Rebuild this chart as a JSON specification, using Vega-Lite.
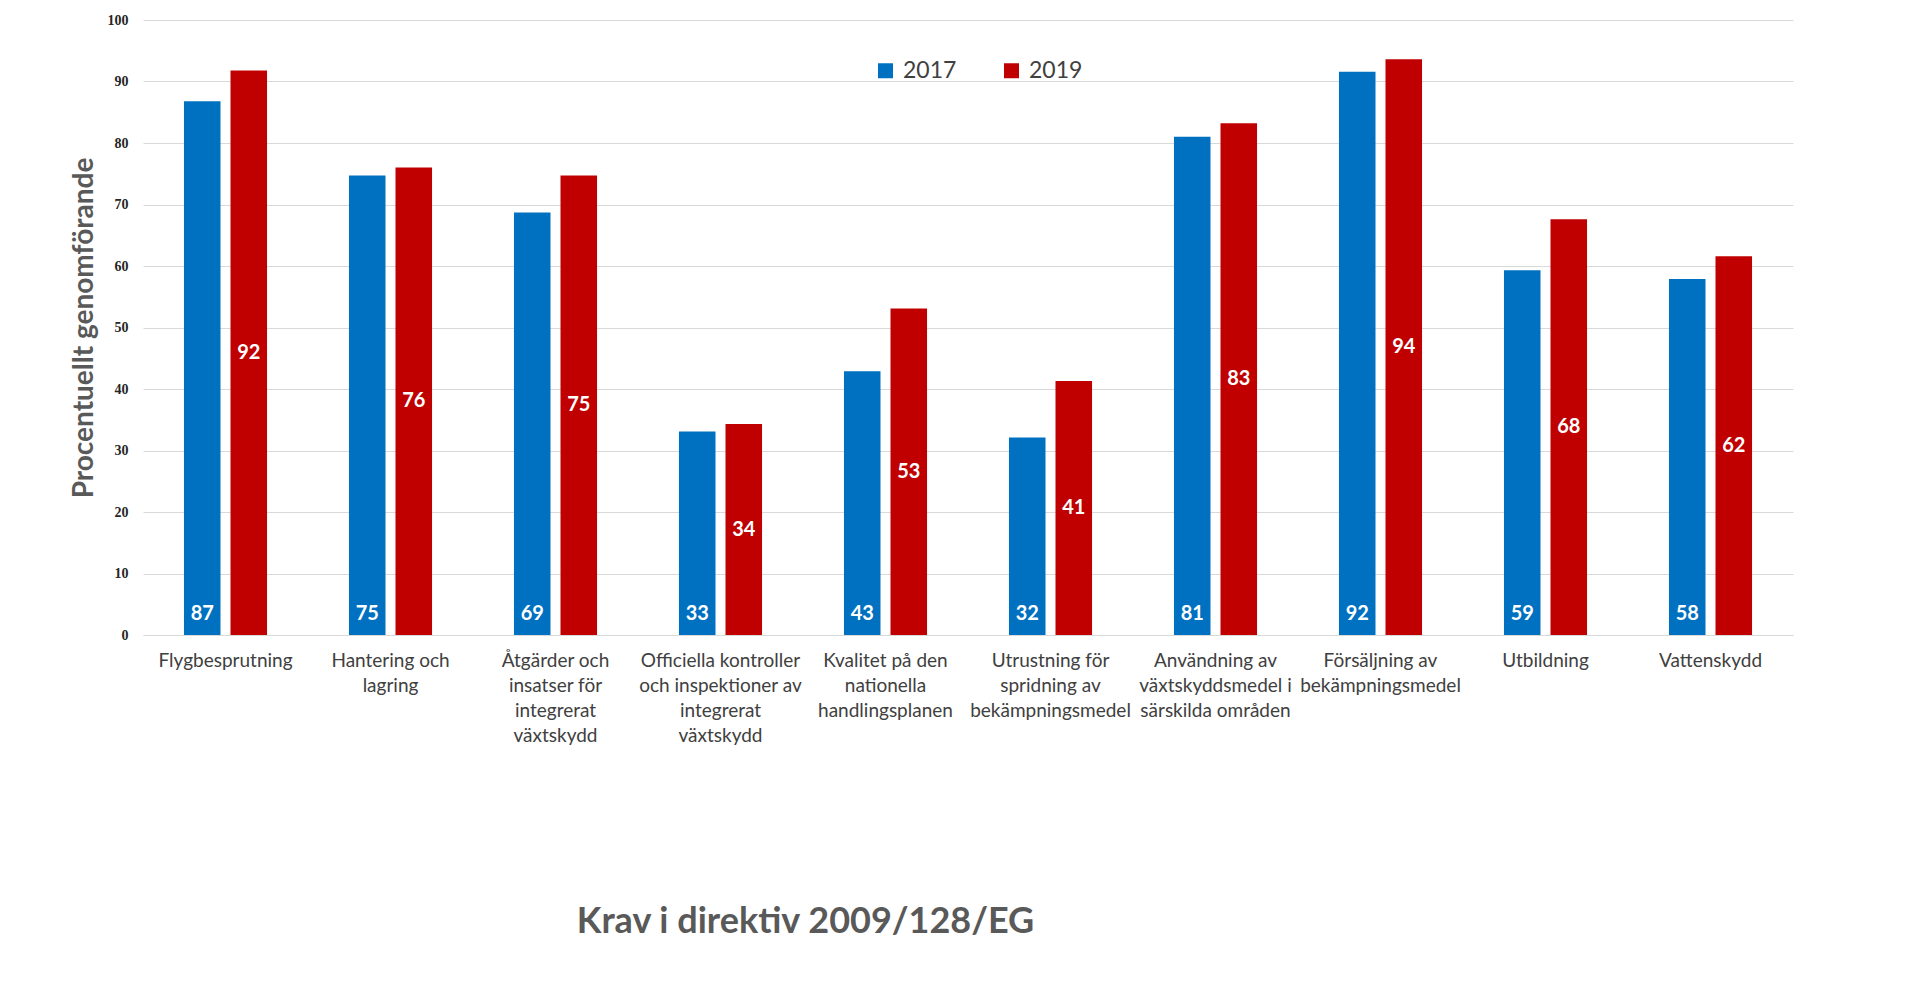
{
  "$schema": "https://vega.github.io/schema/vega-lite/v6.json",
  "width": 1650,
  "height": 615,
  "autosize": {"type": "none"},
  "padding": {"left": 143, "top": 20, "right": 139, "bottom": 352},
  "background": "white",
  "config": {
    "view": {"stroke": null},
    "font": "Lato"
  },
  "data": {
    "values": [
      {"krav": "Flygbesprutning", "year": "2017", "value": 86.8},
      {"krav": "Flygbesprutning", "year": "2019", "value": 91.8},
      {"krav": "Hantering och\nlagring", "year": "2017", "value": 74.7},
      {"krav": "Hantering och\nlagring", "year": "2019", "value": 76.0},
      {"krav": "Åtgärder och\ninsatser för\nintegrerat\nväxtskydd", "year": "2017", "value": 68.7},
      {"krav": "Åtgärder och\ninsatser för\nintegrerat\nväxtskydd", "year": "2019", "value": 74.7},
      {"krav": "Officiella kontroller\noch inspektioner av\nintegrerat\nväxtskydd", "year": "2017", "value": 33.1},
      {"krav": "Officiella kontroller\noch inspektioner av\nintegrerat\nväxtskydd", "year": "2019", "value": 34.3},
      {"krav": "Kvalitet på den\nnationella\nhandlingsplanen", "year": "2017", "value": 42.9},
      {"krav": "Kvalitet på den\nnationella\nhandlingsplanen", "year": "2019", "value": 53.1},
      {"krav": "Utrustning för\nspridning av\nbekämpningsmedel", "year": "2017", "value": 32.1},
      {"krav": "Utrustning för\nspridning av\nbekämpningsmedel", "year": "2019", "value": 41.3},
      {"krav": "Användning av\nväxtskyddsmedel i\nsärskilda områden", "year": "2017", "value": 81.0},
      {"krav": "Användning av\nväxtskyddsmedel i\nsärskilda områden", "year": "2019", "value": 83.2},
      {"krav": "Försäljning av\nbekämpningsmedel", "year": "2017", "value": 91.6},
      {"krav": "Försäljning av\nbekämpningsmedel", "year": "2019", "value": 93.6},
      {"krav": "Utbildning", "year": "2017", "value": 59.3},
      {"krav": "Utbildning", "year": "2019", "value": 67.6},
      {"krav": "Vattenskydd", "year": "2017", "value": 57.9},
      {"krav": "Vattenskydd", "year": "2019", "value": 61.6}
    ]
  },
  "encoding": {
    "x": {
      "field": "krav",
      "type": "nominal",
      "sort": null,
      "scale": {"paddingInner": 0, "paddingOuter": 0},
      "axis": {
        "title": "Krav i direktiv 2009/128/EG",
        "titleFont": "Lato",
        "titleFontSize": 36,
        "titleFontWeight": "bold",
        "titleColor": "#595959",
        "titleX": 662,
        "titleY": 297,
        "titleAlign": "center",
        "titleBaseline": "alphabetic",
        "labelExpr": "split(datum.value, '\\n')",
        "labelAngle": 0,
        "labelAlign": "center",
        "labelBaseline": "top",
        "labelFont": "Lato",
        "labelFontSize": 19,
        "labelLineHeight": 25,
        "labelColor": "#404040",
        "labelPadding": 16,
        "labelLimit": 0,
        "ticks": false,
        "domain": true,
        "domainColor": "#d9d9d9",
        "domainWidth": 1
      }
    },
    "xOffset": {
      "field": "year",
      "type": "nominal",
      "scale": {"paddingInner": 0.215, "paddingOuter": 0.88}
    }
  },
  "layer": [
    {
      "mark": {"type": "bar"},
      "encoding": {
        "y": {
          "field": "value",
          "type": "quantitative",
          "scale": {"domain": [0, 100], "nice": false},
          "axis": {
            "values": [0, 10, 20, 30, 40, 50, 60, 70, 80, 90, 100],
            "title": "Procentuellt genomförande",
            "titleFont": "Lato",
            "titleFontSize": 28,
            "titleFontWeight": "bold",
            "titleColor": "#595959",
            "titleAngle": 270,
            "titleX": -59,
            "titleY": 307.5,
            "titleAlign": "center",
            "titleBaseline": "middle",
            "labelFont": "Liberation Serif",
            "labelFontWeight": "bold",
            "labelFontSize": 14,
            "labelColor": "#262626",
            "labelPadding": 15,
            "ticks": false,
            "domain": false,
            "grid": true,
            "gridColor": "#d9d9d9",
            "gridWidth": 1
          }
        },
        "color": {
          "field": "year",
          "type": "nominal",
          "scale": {"domain": ["2017", "2019"], "range": ["#0070c0", "#c00000"]},
          "legend": {
            "title": null,
            "orient": "none",
            "direction": "horizontal",
            "legendX": 731,
            "legendY": 39,
            "padding": 0,
            "symbolType": "square",
            "symbolSize": 225,
            "symbolStrokeWidth": 0,
            "labelFont": "Lato",
            "labelFontSize": 23,
            "labelColor": "#404040",
            "labelOffset": 6,
            "columnPadding": 43
          }
        }
      }
    },
    {
      "transform": [{"filter": "datum.year == '2017'"}],
      "mark": {"type": "text", "color": "white", "font": "Lato", "fontWeight": "bold", "fontSize": 20, "baseline": "middle", "align": "center", "dy": -21},
      "encoding": {
        "y": {"datum": 0, "type": "quantitative", "scale": {"domain": [0, 100], "nice": false}, "axis": null},
        "text": {"field": "value", "type": "quantitative", "format": ".0f"}
      }
    },
    {
      "transform": [{"filter": "datum.year == '2019'"}],
      "mark": {"type": "text", "color": "white", "font": "Lato", "fontWeight": "bold", "fontSize": 20, "baseline": "middle", "align": "center"},
      "encoding": {
        "y": {"field": "value", "type": "quantitative", "scale": {"domain": [0, 200], "nice": false}, "axis": null},
        "text": {"field": "value", "type": "quantitative", "format": ".0f"}
      }
    }
  ],
  "resolve": {"scale": {"y": "independent"}}
}
